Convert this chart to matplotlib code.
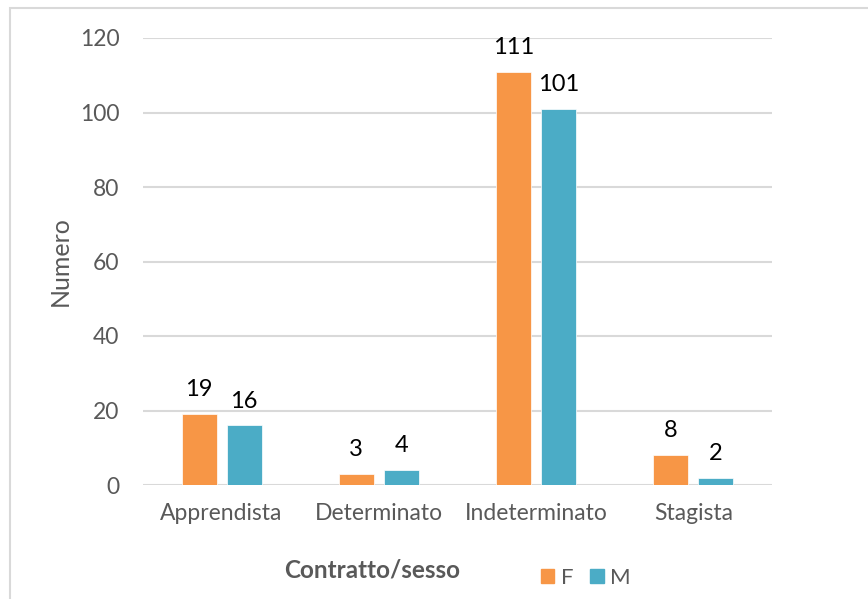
import matplotlib.pyplot as plt
from matplotlib.patches import Rectangle, Patch
import numpy as np

plt.rcParams['font.family'] = ['Lato', 'DejaVu Sans']

categories = ['Apprendista', 'Determinato', 'Indeterminato', 'Stagista']
femmine = [19, 3, 111, 8]
maschi = [16, 4, 101, 2]
series_names = ['F', 'M']
yticks = [0, 20, 40, 60, 80, 100, 120]

col_f = '#F79646'
col_m = '#4BACC6'
grey = '#595959'

fig = plt.figure(figsize=(8.68, 5.99), dpi=100)
ax = fig.add_axes((143 / 868, 1 - 485 / 599, 629 / 868, 447 / 599))

# chart-area border, cropped on the right and bottom
fig.patches.append(Rectangle((10 / 868, -0.1), 2.0, 1 - 8 / 599 + 0.1, transform=fig.transFigure,
                             fill=False, edgecolor='#D9D9D9', linewidth=1.5))

x = np.arange(len(categories))
w = 0.223
off = 0.1435
bars_f = ax.bar(x - off, femmine, w, color=col_f, edgecolor='white', linewidth=0.5, zorder=2)
bars_m = ax.bar(x + off, maschi, w, color=col_m, edgecolor='white', linewidth=0.5, zorder=2)

for bars, vals in ((bars_f, femmine), (bars_m, maschi)):
    for b, v in zip(bars, vals):
        ax.annotate(str(v), (b.get_x() + b.get_width() / 2, v), xytext=(0, 10),
                    textcoords='offset points', ha='center', va='bottom',
                    fontsize=17, color='black')

ax.set_xlim(-0.5, len(categories) - 0.5)
ax.set_ylim(0, 120)
ax.set_yticks(yticks)
ax.set_xticks(x)
ax.set_xticklabels(categories)
ax.yaxis.grid(True, color='#D9D9D9', linewidth=1.5, zorder=0)
ax.set_axisbelow(True)
for s in ax.spines.values():
    s.set_visible(False)
ax.tick_params(axis='both', length=0, labelsize=16.5, labelcolor=grey)
ax.tick_params(axis='x', pad=13)
ax.tick_params(axis='y', pad=17)

ax.set_ylabel('Numero', fontsize=18, color=grey)
ax.yaxis.set_label_coords(-0.113, 0.5)

fig.text(372 / 868, 1 - 570 / 599, 'Contratto/sesso', ha='center', va='center',
         fontsize=17.5, fontweight='bold', color=grey)

handles = [Patch(color=col_f), Patch(color=col_m)]
fig.legend(handles, series_names, loc='center', bbox_to_anchor=(586 / 868, 1 - 578 / 599),
           ncol=2, frameon=False, fontsize=16, handlelength=0.6, handleheight=0.6,
           handletextpad=0.3, columnspacing=0.75, labelcolor=grey)

fig.savefig('out.png', dpi=100)
